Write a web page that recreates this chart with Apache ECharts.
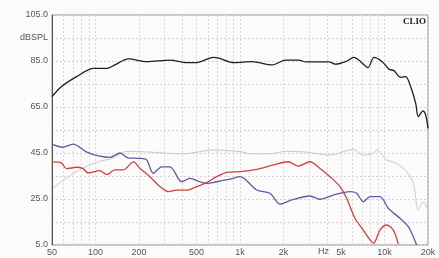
<!DOCTYPE html>
<html><head><meta charset="utf-8">
<script src="https://cdn.jsdelivr.net/npm/echarts@6/dist/echarts.min.js"></script>
<style>html,body{margin:0;padding:0;background:#fbfbfb}#c{width:439px;height:258px}</style>
</head><body><div id="c"></div>
<script>
// frequencies (Hz) and levels (dB SPL)
const blackF = [50,58,74,97,120,136,169,226,328,428,501,653,715,908,1216,1672,2070,2559,2847,4128,4593,5384,6150,6842,7686,8455,9652,10741,11630,12940,14015,15175,16440,17140,18460,19270,20000];
const blackV = [69.5,73.8,78.2,81.8,81.8,83.3,85.9,84.7,85.4,84.3,84.3,86.6,86.2,84.3,84.7,83.3,85.4,85.4,84.6,84.6,83.6,84.7,86.6,84.7,82.1,86.6,84.7,81.4,80.8,77.9,78.2,73.8,66.6,60.8,63.3,61.5,55.7];

const grayF = [51,63,82,107,133,164,238,403,650,1000,1216,1587,2070,2847,4194,6082,7130,8366,8830,10355,12140,14235,15815,17140,18555,20000];
const grayV = [29.8,34.1,38.5,41.4,42.8,45.7,45.4,44.6,46.3,45.6,44.6,44.6,45.7,45.4,44.1,46.6,44.1,44.9,46.3,42.0,40.5,36.9,31.8,20.2,23.8,20.2];

const blueF = [51,59,70,87,107,126,148,169,203,226,251,287,328,395,451,528,588,690,853,1000,1305,1613,1891,2279,3049,3576,4421,5767,6421,7130,7938,9306,10620,12800,14613,15815,16700];
const blueV = [48.6,47.5,48.9,45.4,43.6,43.1,45.0,42.8,42.7,42.0,36.2,39.0,39.0,32.5,34.0,32.5,31.8,32.5,33.6,34.7,28.9,27.5,22.8,24.6,26.3,24.9,26.7,28.2,27.5,23.8,26.0,26.0,21.0,16.6,13.0,8.6,5.0];

const redF = [51,58,63,74,82,89,107,120,136,156,183,203,238,279,319,365,428,501,588,690,809,1000,1305,1700,2158,2531,3049,3576,4194,4920,5472,6250,7130,7938,8400,9306,10355,11504,12460];
const redV = [41.1,40.7,38.2,38.8,38.2,36.3,37.3,35.6,37.7,37.7,41.1,38.3,34.7,30.4,28.2,28.9,28.9,30.4,32.1,34.7,36.6,36.9,37.9,39.8,41.2,39.3,41.2,38.3,34.7,30.4,25.3,16.6,11.5,7.2,5.8,11.5,13.7,11.5,5.5];

const xTicks = [50,60,70,80,90,100,200,300,400,500,600,700,800,900,1000,2000,3000,4000,5000,6000,7000,8000,9000,10000,20000];
const xLabelVals = [50,100,200,500,1000,2000,5000,10000,20000];
const xLabelText = ['50','100','200','500','1k','2k','5k','10k','20k'];
const yLabels = {5:'5.0',25:'25.0',45:'45.0',65:'65.0',85:'85.0',95:'dBSPL',105:'105.0'};

function pts(f, v){ return f.map((x,i)=>[x, v[i]]); }

const chart = echarts.init(document.getElementById('c'), null, {renderer:'canvas'});
const font = {fontFamily:'Liberation Sans, Arial, sans-serif', fontSize:9, color:'#555'};
chart.setOption({
  animation:false,
  backgroundColor:'#fbfbfb',
  grid:{left:52,right:11,top:15,bottom:13,show:true,borderColor:'#8a8a8a',borderWidth:1},
  xAxis:{type:'log',logBase:10,min:50,max:20000,
    axisLine:{show:false},
    axisTick:{show:false,customValues:xTicks},
    splitLine:{show:true,lineStyle:{color:'#e3d3da',type:[2,2],width:1}},
    axisLabel:Object.assign({customValues:xLabelVals,margin:3,
      formatter:function(v){const i=xLabelVals.indexOf(Math.round(v));return i>=0?xLabelText[i]:'';}},font)
  },
  yAxis:{type:'value',min:5,max:105,interval:10,
    axisLine:{show:true,lineStyle:{color:'#555'}},
    axisTick:{show:false},
    splitLine:{show:true,lineStyle:{color:'#d8d2dc',type:[2,2],width:1}},
    axisLabel:Object.assign({margin:4,formatter:function(v){return yLabels[Math.round(v)]||'';}},font)
  },
  graphic:[
    {type:'text',left:318,top:247,style:{text:'Hz',font:'9px Liberation Sans, Arial, sans-serif',fill:'#555'}},
    {type:'text',right:13,top:17,style:{text:'CLIO',font:'bold 9px Liberation Serif, Times New Roman, serif',fill:'#222'}}
  ],
  series:[
    {type:'line',data:pts(grayF,grayV),showSymbol:false,smooth:0.3,lineStyle:{color:'#cdc6d0',width:1}},
    {type:'line',data:pts(blueF,blueV),showSymbol:false,smooth:0.3,lineStyle:{color:'#5c5c9c',width:1.3}},
    {type:'line',data:pts(redF,redV),showSymbol:false,smooth:0.3,lineStyle:{color:'#d0413f',width:1.3}},
    {type:'line',data:pts(blackF,blackV),showSymbol:false,smooth:0.3,lineStyle:{color:'#1e1e1e',width:1.3}}
  ]
});
</script></body></html>
